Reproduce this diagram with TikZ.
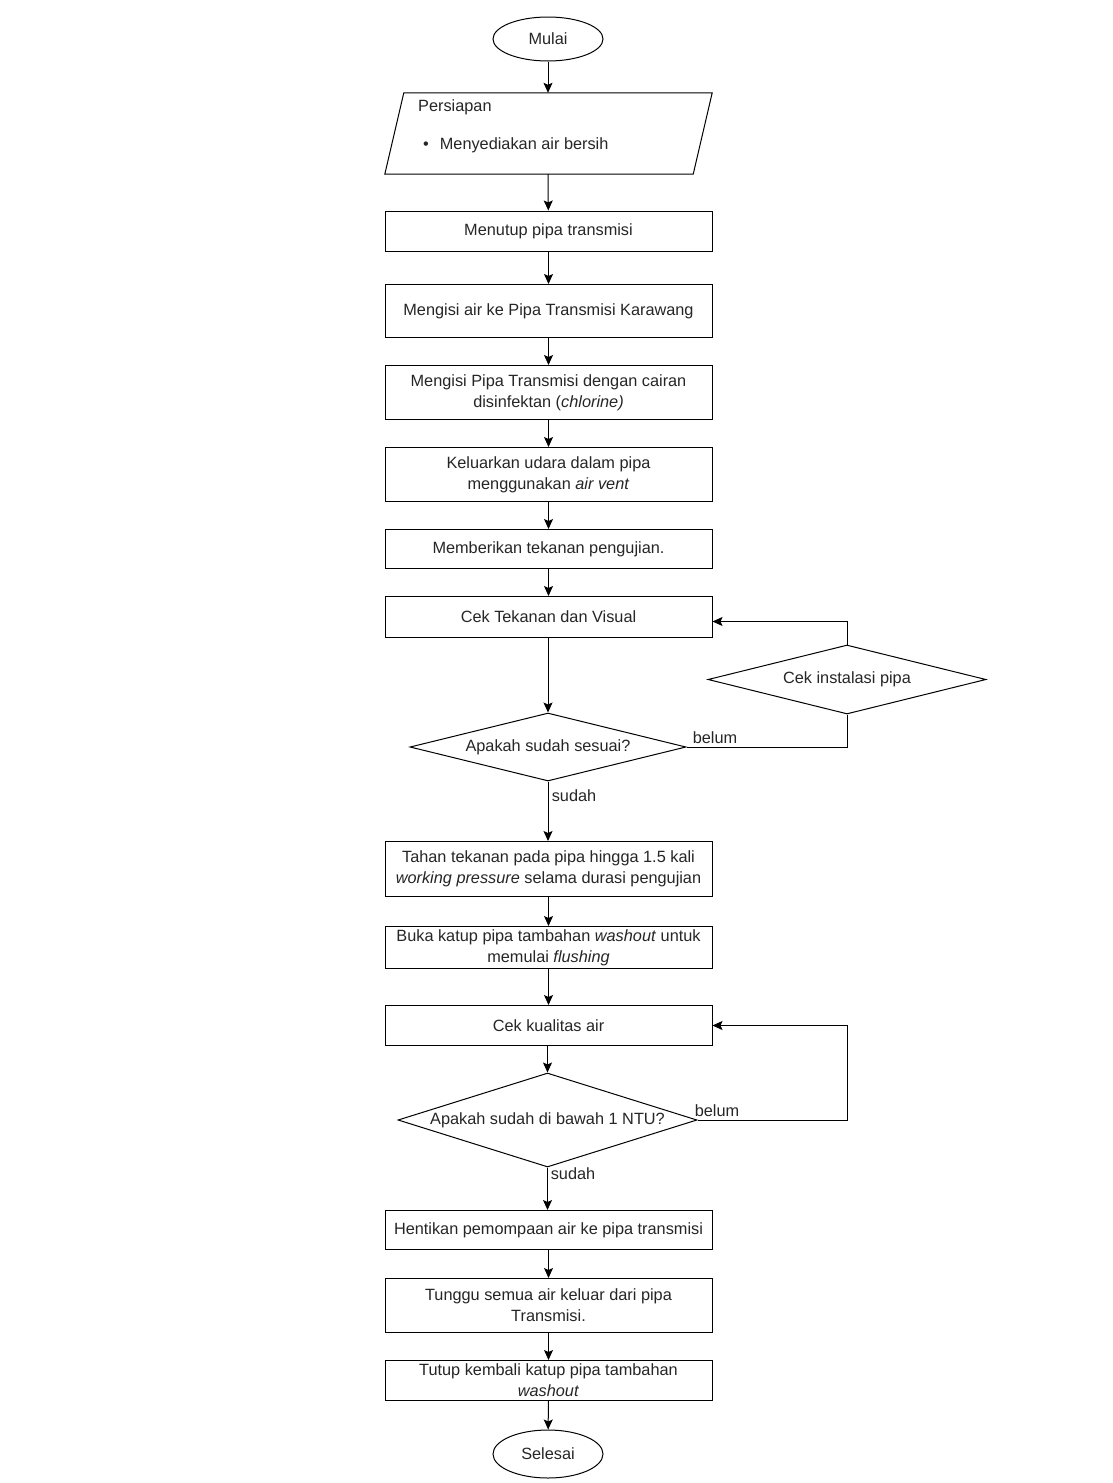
\documentclass[tikz,border=0pt]{standalone}
\usepackage{fontspec}
\setmainfont{Liberation Sans}
\usetikzlibrary{shapes.geometric,arrows.meta}
\begin{document}
\begin{tikzpicture}[x=1pt,y=-1pt,
  every node/.style={font=\fontsize{16.3}{21}\selectfont, text=black!85},
  box/.style={draw, line width=1pt, minimum width=327pt, align=center, inner sep=0pt},
  term/.style={draw, ellipse, line width=1pt, minimum width=110pt, minimum height=44pt, inner sep=0pt},
  dec/.style={draw, diamond, line width=1pt, inner sep=0pt},
  arr/.style={-{Stealth[length=10pt,width=9pt,inset=2pt]}, line width=1pt},
  ln/.style={line width=1pt},
  lbl/.style={inner sep=0pt}
]
\useasboundingbox (0,0) rectangle (1113,1483);
\fill[white] (0,0) rectangle (1113,1483);

\node[term] (mulai) at (548,39) {Mulai};

\node[minimum width=327pt, minimum height=81pt, inner sep=0pt] (prep) at (548.5,133.5) {};
\draw[ln] ([xshift=19pt]prep.north west) -- (prep.north east) -- ([xshift=-19pt]prep.south east) -- (prep.south west) -- cycle;
\node[lbl, anchor=west] (prept) at (418,107) {Persiapan};
\node[lbl, anchor=west] (prepb) at (423,145) {\textbullet\hspace{11pt}Menyediakan air bersih};

\node[box, minimum height=40pt] (tutup) at (548.5,231) {Menutup pipa transmisi};
\node[box, minimum height=53pt] (isi) at (548.5,311) {Mengisi air ke Pipa Transmisi Karawang};
\node[box, minimum height=54pt] (klor) at (548.5,392.5) {Mengisi Pipa Transmisi dengan cairan\\disinfektan (\textit{chlorine)}};
\node[box, minimum height=54pt] (udara) at (548.5,474.5) {Keluarkan udara dalam pipa\\menggunakan \textit{air vent}};
\node[box, minimum height=39pt] (tekan) at (548.5,549) {Memberikan tekanan pengujian.};
\node[box, minimum height=41pt] (cek) at (548.5,617) {Cek Tekanan dan Visual};

\node[dec, minimum width=278pt, minimum height=69pt, aspect=4.03] (inst) at (847,679.5) {Cek instalasi pipa};
\node[dec, minimum width=276pt, minimum height=68pt, aspect=4.06] (sesuai) at (548,747) {Apakah sudah sesuai?};

\node[box, minimum height=55pt] (tahan) at (548.5,869) {Tahan tekanan pada pipa hingga 1.5 kali\\\textit{working pressure} selama durasi pengujian};
\node[box, minimum height=42pt] (buka) at (548.5,947.5) {Buka katup pipa tambahan \textit{washout} untuk\\memulai \textit{flushing}};
\node[box, minimum height=40pt] (kual) at (548.5,1025.5) {Cek kualitas air};
\node[dec, minimum width=299pt, minimum height=94pt, aspect=3.18] (ntu) at (547.5,1120) {Apakah sudah di bawah 1 NTU?};
\node[box, minimum height=39pt] (henti) at (548.5,1230) {Hentikan pemompaan air ke pipa transmisi};
\node[box, minimum height=54pt] (tunggu) at (548.5,1305.5) {Tunggu semua air keluar dari pipa\\Transmisi.};
\node[box, minimum height=40pt] (tutupk) at (548.5,1380.5) {Tutup kembali katup pipa tambahan\\\textit{washout}};
\node[term, minimum height=48pt] (selesai) at (548,1454) {Selesai};

\draw[arr] (mulai) -- (mulai |- prep.north);
\draw[arr] (mulai |- prep.south) -- (tutup);
\draw[arr] (tutup) -- (isi);
\draw[arr] (isi) -- (klor);
\draw[arr] (klor) -- (udara);
\draw[arr] (udara) -- (tekan);
\draw[arr] (tekan) -- (cek);
\draw[arr] (cek.south -| sesuai.north) -- (sesuai.north);
\draw[arr] (sesuai.south) -- (sesuai.south |- tahan.north);
\draw[arr] (tahan) -- (buka);
\draw[arr] (buka) -- (kual);
\draw[arr] (kual.south -| ntu.north) -- (ntu.north);
\draw[arr] (ntu.south) -- (ntu.south |- henti.north);
\draw[arr] (henti) -- (tunggu);
\draw[arr] (tunggu) -- (tutupk);
\draw[arr] (tutupk) -- (selesai);

\coordinate (c1) at ([yshift=-4.5pt]cek.east);
\draw[ln] (sesuai.east) -- (sesuai.east -| inst.south) -- (inst.south);
\draw[arr] (inst.north) -- (inst.north |- c1) -- (c1);
\draw[arr] (ntu.east) -- (ntu.east -| inst.south) -- (inst.south |- kual.east) -- (kual.east);

\node[lbl] (b1) at (715,738) {belum};
\node[lbl] (s1) at (574,796) {sudah};
\node[lbl] (b2) at (717,1111) {belum};
\node[lbl] (s2) at (573,1174) {sudah};
\end{tikzpicture}
\end{document}
